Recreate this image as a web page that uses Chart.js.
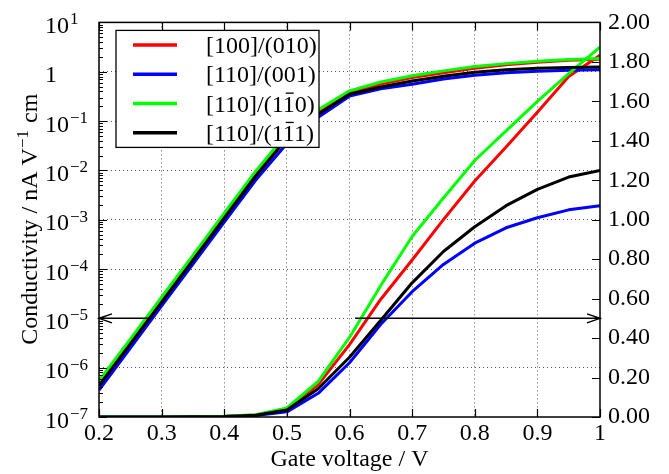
<!DOCTYPE html>
<html>
<head>
<meta charset="utf-8">
<script src="https://cdn.jsdelivr.net/npm/chart.js@4"></script>
<style>
  html, body { margin: 0; padding: 0; background: #fff; }
  #wrap { width: 669px; height: 474px; }
</style>
</head>
<body>
<div id="wrap"><canvas id="myChart" width="669" height="474"></canvas></div>
<script>
// gate voltage (V)
const voltage = [0.2, 0.25, 0.3, 0.35, 0.4, 0.45, 0.5, 0.55, 0.6, 0.65, 0.7, 0.75, 0.8, 0.85, 0.9, 0.95, 1.0];

// series names (U+0304 marks an overbar on the digit before it)
const seriesNames = ['[100]/(010)', '[110]/(001)', '[110]/(11\u03040)', '[110]/(11\u03041)'];

// conductivity, log axis (nA V^-1 cm)
const logRed   = [4.7e-7, 3.3e-6, 2.3e-5, 1.66e-4, 1.17e-3, 8.3e-3, 4.9e-2, 0.155, 0.38, 0.56, 0.76, 0.95, 1.17, 1.38, 1.55, 1.70, 1.80];
const logBlue  = [3.5e-7, 2.5e-6, 1.8e-5, 1.26e-4, 8.9e-4, 6.3e-3, 3.5e-2, 0.12, 0.32, 0.45, 0.56, 0.71, 0.85, 0.95, 1.02, 1.07, 1.10];
const logGreen = [5.4e-7, 3.8e-6, 2.7e-5, 1.9e-4, 1.35e-3, 9.5e-3, 5.6e-2, 0.17, 0.41, 0.62, 0.83, 1.04, 1.27, 1.46, 1.63, 1.76, 1.86];
const logBlack = [4.3e-7, 3.0e-6, 2.1e-5, 1.5e-4, 1.07e-3, 7.6e-3, 4.4e-2, 0.138, 0.35, 0.49, 0.65, 0.81, 0.98, 1.10, 1.17, 1.22, 1.24];

// conductivity, linear axis (right)
const linRed   = [0, 0, 0, 0.001, 0.003, 0.010, 0.037, 0.164, 0.367, 0.597, 0.796, 1.00, 1.196, 1.368, 1.544, 1.726, 1.834];
const linBlue  = [0, 0, 0, 0.001, 0.002, 0.008, 0.026, 0.120, 0.275, 0.470, 0.635, 0.773, 0.881, 0.959, 1.010, 1.050, 1.071];
const linGreen = [0, 0, 0, 0.001, 0.004, 0.012, 0.046, 0.180, 0.403, 0.667, 0.915, 1.110, 1.300, 1.450, 1.600, 1.740, 1.875];
const linBlack = [0, 0, 0, 0.001, 0.003, 0.009, 0.035, 0.143, 0.303, 0.490, 0.680, 0.839, 0.964, 1.071, 1.154, 1.216, 1.249];

// axis ticks
const xTicks = [0.2, 0.3, 0.4, 0.5, 0.6, 0.7, 0.8, 0.9, 1.0];
const decades = [1e-7, 1e-6, 1e-5, 1e-4, 1e-3, 1e-2, 1e-1, 1, 10];
const rightTicks = [0, 0.2, 0.4, 0.6, 0.8, 1.0, 1.2, 1.4, 1.6, 1.8, 2.0];

// arrows: [from, to] in volts, at the given level on each axis
const arrowLeft = [0.283, 0.2];
const arrowLeftLevel = 1e-5;
const arrowRight = [0.609, 1.0];
const arrowRightLevel = 0.5;

const FONT = '"Liberation Serif", "Times New Roman", serif';
const colors = ['#ff0000', '#0000ff', '#00ff00', '#000000'];
const gridColor = '#555';

Chart.defaults.font.family = FONT;
Chart.defaults.color = '#000';

const logSeries = [logRed, logBlue, logGreen, logBlack];
const linSeries = [linRed, linBlue, linGreen, linBlack];

function pairs(ys) {
  return voltage.map((x, i) => ({x: x, y: ys[i]}));
}

const datasets = [];
seriesNames.forEach((name, i) => {
  const common = {
    label: name,
    borderColor: colors[i],
    backgroundColor: colors[i],
    borderWidth: 3,
    pointRadius: 0,
    tension: 0,
    fill: false,
    borderJoinStyle: 'round',
    order: seriesNames.length - i
  };
  datasets.push(Object.assign({}, common, {data: pairs(logSeries[i]), yAxisID: 'y'}));
  datasets.push(Object.assign({}, common, {data: pairs(linSeries[i]), yAxisID: 'y1'}));
});

function arrow(ctx, x0, y0, x1, y1) {
  const ang = Math.atan2(y1 - y0, x1 - x0);
  const len = 13, half = 4.5;
  const c = Math.cos(ang), s = Math.sin(ang);
  ctx.beginPath();
  ctx.moveTo(x0, y0);
  ctx.lineTo(x1, y1);
  ctx.moveTo(x1 - len * c + half * s, y1 - len * s - half * c);
  ctx.lineTo(x1, y1);
  ctx.lineTo(x1 - len * c - half * s, y1 - len * s + half * c);
  ctx.stroke();
}

// draw text, putting a bar over any char followed by U+0304
function barText(ctx, text, x, y) {
  let plain = '';
  const bars = [];
  for (const ch of text) {
    if (ch === '\u0304') { bars.push(plain.length - 1); continue; }
    plain += ch;
  }
  ctx.fillText(plain, x, y);
  bars.forEach(idx => {
    const x0 = x + ctx.measureText(plain.slice(0, idx)).width;
    const w = ctx.measureText(plain[idx]).width;
    ctx.fillRect(x0 + 2, y - 19, w - 4, 1.3);
  });
}

function supLabel(e) {
  return (e < 0 ? '\u2212' : '') + Math.abs(e);
}

const overlay = {
  id: 'overlay',
  afterDraw(chart) {
    const ctx = chart.ctx;
    const area = chart.chartArea;
    const xs = chart.scales.x, ys = chart.scales.y, yr = chart.scales.y1;
    ctx.save();

    // frame
    ctx.strokeStyle = '#000';
    ctx.lineWidth = 1.5;
    ctx.strokeRect(area.left, area.top, area.right - area.left, area.bottom - area.top);

    // inward tick marks
    ctx.lineWidth = 1.2;
    ctx.beginPath();
    xTicks.forEach(v => {
      const px = Math.round(xs.getPixelForValue(v)) + 0.5;
      ctx.moveTo(px, area.bottom); ctx.lineTo(px, area.bottom - 8);
      ctx.moveTo(px, area.top); ctx.lineTo(px, area.top + 8);
    });
    decades.forEach((d, i) => {
      const py = Math.round(ys.getPixelForValue(d)) + 0.5;
      ctx.moveTo(area.left, py); ctx.lineTo(area.left + 8, py);
      if (i < decades.length - 1) {
        for (let k = 2; k < 10; k++) {
          const pm = Math.round(ys.getPixelForValue(k * d)) + 0.5;
          ctx.moveTo(area.left, pm); ctx.lineTo(area.left + 4, pm);
        }
      }
    });
    rightTicks.forEach(v => {
      const py = Math.round(yr.getPixelForValue(v)) + 0.5;
      ctx.moveTo(area.right, py); ctx.lineTo(area.right - 8, py);
    });
    ctx.stroke();

    // arrows
    ctx.lineWidth = 1.5;
    arrow(ctx, xs.getPixelForValue(arrowLeft[0]), ys.getPixelForValue(arrowLeftLevel),
               xs.getPixelForValue(arrowLeft[1]), ys.getPixelForValue(arrowLeftLevel));
    arrow(ctx, xs.getPixelForValue(arrowRight[0]), yr.getPixelForValue(arrowRightLevel),
               xs.getPixelForValue(arrowRight[1]), yr.getPixelForValue(arrowRightLevel));

    // legend box
    const lx = area.left + 17, ly = area.top + 8, lw = 203, lh = 117;
    ctx.fillStyle = '#fff';
    ctx.fillRect(lx, ly, lw, lh);
    ctx.lineWidth = 1.3;
    ctx.strokeStyle = '#000';
    ctx.strokeRect(lx, ly, lw, lh);
    ctx.font = '24px ' + FONT;
    ctx.textBaseline = 'alphabetic';
    ctx.textAlign = 'left';
    seriesNames.forEach((name, i) => {
      const ry = ly + 14.5 + i * 29.3;
      ctx.strokeStyle = colors[i];
      ctx.lineWidth = 3.5;
      ctx.beginPath();
      ctx.moveTo(lx + 17, ry); ctx.lineTo(lx + 61, ry);
      ctx.stroke();
      ctx.fillStyle = '#000';
      barText(ctx, name, lx + 90, ry + 8);
    });

    // left log tick labels
    ctx.fillStyle = '#000';
    decades.forEach(d => {
      const e = Math.round(Math.log10(d));
      const py = ys.getPixelForValue(d);
      ctx.font = '24px ' + FONT;
      if (e === 0) {
        ctx.fillText('1', 45, py + 10.5);
      } else {
        ctx.fillText('10', 45, py + 10.5);
        const w = ctx.measureText('10').width;
        ctx.font = '17px ' + FONT;
        ctx.fillText(supLabel(e), 45 + w + 1, py + 2);
      }
    });

    // left axis title
    const parts = [
      {t: 'Conductivity / nA V', size: 24, dy: 0},
      {t: supLabel(-1), size: 17, dy: -9},
      {t: ' cm', size: 24, dy: 0}
    ];
    let total = 0;
    parts.forEach(p => { ctx.font = p.size + 'px ' + FONT; p.w = ctx.measureText(p.t).width; total += p.w; });
    ctx.translate(37, (area.top + area.bottom) / 2);
    ctx.rotate(-Math.PI / 2);
    let cx = -total / 2;
    parts.forEach(p => {
      ctx.font = p.size + 'px ' + FONT;
      ctx.fillText(p.t, cx, p.dy);
      cx += p.w + (p.dy ? 1 : 0);
    });

    ctx.restore();
  }
};

new Chart(document.getElementById('myChart').getContext('2d'), {
  type: 'line',
  data: { datasets: datasets },
  plugins: [overlay],
  options: {
    responsive: false,
    animation: false,
    layout: { padding: { top: 15, left: 0, right: 0, bottom: 0 } },
    plugins: {
      legend: { display: false },
      tooltip: { enabled: false }
    },
    scales: {
      x: {
        type: 'linear',
        min: 0.2,
        max: 1.0,
        afterBuildTicks: s => { s.ticks = xTicks.map(v => ({value: v})); },
        afterFit: s => { s.height = 57; },
        grid: {
          color: c => (c.tick && c.tick.value > 0.21 && c.tick.value < 0.99) ? gridColor : 'rgba(0,0,0,0)',
          lineWidth: 1,
          drawTicks: false,
          borderDash: [1, 3]
        },
        border: { display: false, dash: [1, 3] },
        ticks: {
          font: { size: 24, family: FONT },
          color: '#000',
          padding: 2,
          maxRotation: 0,
          autoSkip: false,
          callback: v => (Math.abs(v - 1) < 1e-9 ? '1' : v.toFixed(1))
        },
        title: {
          display: true,
          text: 'Gate voltage / V',
          font: { size: 24, family: FONT },
          color: '#000',
          padding: { top: 0, bottom: 0 }
        }
      },
      y: {
        type: 'logarithmic',
        position: 'left',
        min: 1e-7,
        max: 10,
        afterBuildTicks: s => { s.ticks = decades.map(v => ({value: v})); },
        afterFit: s => { s.width = 99; },
        grid: {
          color: c => (c.tick && c.tick.value > 5e-7 && c.tick.value < 5) ? gridColor : 'rgba(0,0,0,0)',
          lineWidth: 1,
          drawTicks: false,
          borderDash: [1, 3]
        },
        border: { display: false, dash: [1, 3] },
        ticks: { display: false }
      },
      y1: {
        type: 'linear',
        position: 'right',
        min: 0,
        max: 2,
        afterBuildTicks: s => { s.ticks = rightTicks.map(v => ({value: v})); },
        afterFit: s => { s.width = 69; },
        grid: { drawOnChartArea: false, drawTicks: false },
        border: { display: false },
        ticks: {
          font: { size: 24, family: FONT },
          color: '#000',
          padding: 8,
          autoSkip: false,
          callback: v => v.toFixed(2)
        }
      }
    }
  }
});
</script>
</body>
</html>
